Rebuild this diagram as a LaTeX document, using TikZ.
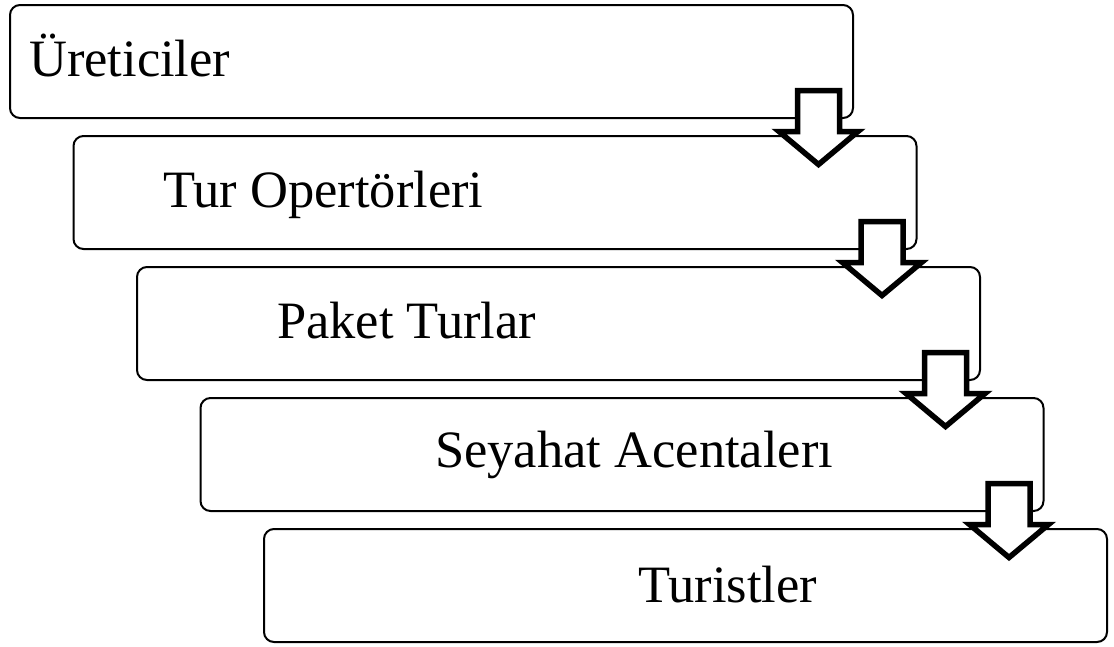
\documentclass[tikz,border=0pt]{standalone}
\usepackage{fontspec}
\setmainfont{Liberation Serif}
\usetikzlibrary{calc}
\begin{document}
\begin{tikzpicture}[x=1pt,y=-1pt,
  box/.style={draw, line width=2pt, rounded corners=10pt, fill=white,
    minimum width=843pt, minimum height=113pt, inner sep=0pt, anchor=north west},
  lbl/.style={anchor=base west, inner sep=0pt, font=\fontsize{52.5}{60}\selectfont},
  darrow/.style={draw, line width=5.5pt, fill=white, miter limit=10},
  darr/.pic={\draw[darrow] (-21,0) -- (21,0) -- (21,41) -- (39.5,41) -- (0,74) -- (-39.5,41) -- (-21,41) -- cycle;}]
\useasboundingbox (0,0) rectangle (1114,646);
\node[box] (b1) at (9,4) {};
\node[box] (b2) at (72.5,135) {};
\node[box] (b3) at (136,266) {};
\node[box] (b4) at (199.5,397) {};
\node[box] (b5) at (263,528) {};
\node[lbl] (t1) at (29,76) {Üreticiler};
\node[lbl] (t2) at (163,207) {Tur Opertörleri};
\node[lbl] (t3) at (277,338) {Paket Turlar};
\node[lbl] (t4) at (435,467) {Seyahat Acentalerı};
\node[lbl] (t5) at (638,602) {Turistler};
\foreach \k in {1,2,3,4}{
  \coordinate (a\k) at ($(b\k.south east)+(-35.5,-28.5)$);
  \pic at (a\k) {darr};
}
\end{tikzpicture}
\end{document}
